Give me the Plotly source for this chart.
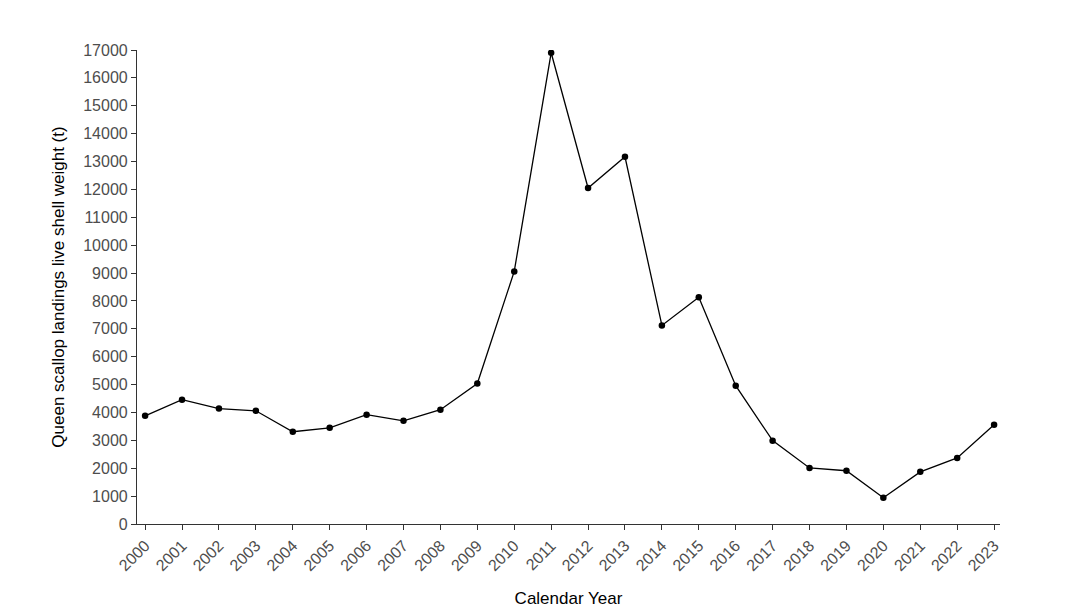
import plotly.graph_objects as go

years = list(range(2000, 2024))
landings = [3880, 4460, 4140, 4060, 3310, 3450, 3920, 3700, 4100, 5040,
            9060, 16900, 12050, 13170, 7120, 8130, 4960, 2990, 2010, 1910,
            940, 1870, 2370, 3560]
y_ticks = list(range(0, 17001, 1000))

fig = go.Figure()
fig.add_trace(go.Scatter(
    x=years, y=landings, mode='lines+markers',
    line=dict(color='black', width=1.3),
    marker=dict(color='black', size=6.5),
    showlegend=False,
))

fig.update_layout(
    width=1080, height=612,
    margin=dict(l=129, r=88, t=42, b=96, autoexpand=False),
    plot_bgcolor='white', paper_bgcolor='white',
    font=dict(family='Liberation Sans, Arial, sans-serif', color='black'),
)
fig.update_xaxes(
    range=[1999.78, 2023.16], tickvals=years, ticktext=[str(y) for y in years],
    tickangle=-45, ticks='outside', ticklen=5, tickcolor='#333333',
    tickfont=dict(size=16, color='#4d4d4d'),
    showline=True, linecolor='#333333', linewidth=1.2,
    showgrid=False, zeroline=False, automargin=False,
    title=dict(text='Calendar Year', font=dict(size=17, color='black'), standoff=18),
)
fig.update_yaxes(
    range=[0, 17000], tickvals=y_ticks, ticktext=[str(v) for v in y_ticks],
    ticks='outside', ticklen=5, tickcolor='#333333',
    tickfont=dict(size=16, color='#4d4d4d'),
    showline=True, linecolor='#333333', linewidth=1.2,
    showgrid=False, zeroline=False, automargin=False,
    title=dict(text='Queen scallop landings live shell weight (t)', font=dict(size=17, color='black'), standoff=14),
)

fig.write_html('out.html')
